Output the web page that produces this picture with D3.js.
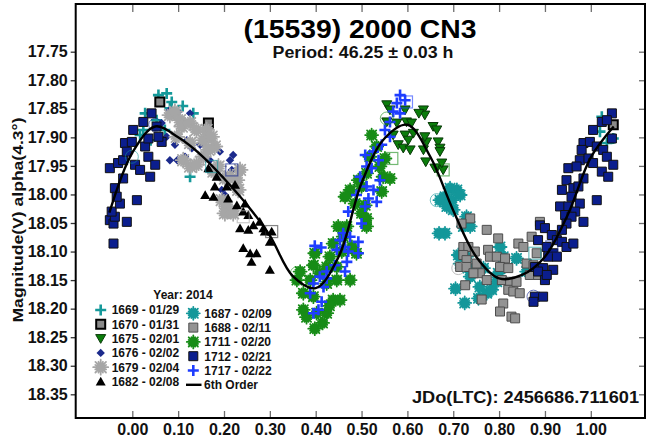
<!DOCTYPE html>
<html><head><meta charset="utf-8">
<script src="https://cdn.jsdelivr.net/npm/d3@7"></script>
<style>
body{margin:0;background:#fff}
svg{display:block}
text{font-family:"Liberation Sans",Arial,sans-serif;font-weight:bold}
</style>
</head><body>
<svg id="chart" width="650" height="444"></svg>
<script>
// ---- data: rotational phase vs. reduced magnitude, one array per session ----
const s1669 = [[0.057,17.826],[0.075,17.823],[0.086,17.838],[0.082,17.849],[0.028,17.858],[0.133,17.858],[0.024,17.887],[0.017,17.896],[0.126,17.969],[0.053,17.870],[0.071,17.887],[0.110,17.845],[0.040,17.905],[1.024,17.864],[1.020,17.890],[1.049,17.902],[1.035,17.910]];
const s1670 = [[0.060,17.838],[0.166,17.875],[1.049,17.878]];
const s1675 = [[0.555,17.843],[0.562,17.852],[0.595,17.852],[0.635,17.852],[0.638,17.861],[0.555,17.873],[0.577,17.875],[0.598,17.873],[0.609,17.875],[0.569,17.896],[0.595,17.896],[0.613,17.893],[0.602,17.905],[0.580,17.913],[0.591,17.919],[0.606,17.922],[0.656,17.881],[0.664,17.887],[0.642,17.908],[0.635,17.922],[0.667,17.908],[0.671,17.919],[0.640,17.943],[0.664,17.954],[0.678,17.957],[0.675,17.945],[0.638,17.899],[0.671,17.925],[0.660,17.954],[0.625,17.858]];
const s1676 = [[0.082,17.852],[0.100,17.855],[0.126,17.858],[0.108,17.875],[0.075,17.899],[0.093,17.913],[0.082,17.940],[0.098,17.940],[0.115,17.934],[0.130,17.919],[0.148,17.913],[0.119,17.905],[0.159,17.905],[0.191,17.925],[0.213,17.940],[0.169,17.940],[0.195,17.992],[0.202,18.001],[0.166,17.957],[0.064,17.875],[0.217,17.957],[0.220,17.931]];
const s1679 = [[0.082,17.861],[0.093,17.855],[0.104,17.870],[0.108,17.881],[0.126,17.875],[0.140,17.887],[0.155,17.905],[0.162,17.887],[0.173,17.899],[0.180,17.916],[0.111,17.940],[0.126,17.951],[0.140,17.948],[0.155,17.934],[0.188,17.951],[0.202,17.972],[0.213,17.969],[0.195,18.010],[0.206,18.021],[0.228,17.975],[0.231,17.992],[0.202,18.033],[0.220,18.033],[0.097,17.899],[0.126,17.910],[0.166,17.922],[0.177,17.960],[0.235,17.957]];
const s1682 = [[0.166,17.954],[0.184,17.969],[0.159,18.001],[0.177,18.004],[0.206,17.986],[0.224,17.983],[0.209,18.007],[0.228,18.019],[0.246,18.016],[0.242,18.030],[0.253,18.036],[0.235,18.059],[0.253,18.062],[0.264,18.054],[0.278,18.048],[0.289,18.065],[0.304,18.065],[0.300,18.083],[0.242,18.094],[0.257,18.103],[0.271,18.103],[0.260,18.118],[0.300,18.132],[0.180,17.986],[0.286,18.059]];
const s1687 = [[0.693,17.989],[0.708,17.992],[0.682,18.004],[0.671,18.010],[0.697,18.010],[0.715,18.001],[0.686,18.021],[0.700,18.027],[0.682,18.068],[0.729,18.039],[0.722,18.056],[0.737,18.056],[0.711,18.106],[0.729,18.109],[0.715,18.121],[0.802,18.092],[0.809,18.109],[0.798,18.138],[0.737,18.144],[0.758,18.162],[0.773,18.173],[0.784,18.167],[0.755,18.182],[0.860,18.135],[0.838,18.112],[0.732,18.129],[0.766,18.129],[0.795,18.153],[0.669,18.068],[0.705,18.165],[0.725,18.190]];
const s1688 = [[0.737,18.042],[0.718,18.051],[0.773,18.062],[0.798,18.077],[0.722,18.092],[0.733,18.092],[0.747,18.100],[0.776,18.097],[0.780,18.109],[0.722,18.106],[0.729,18.115],[0.751,18.121],[0.715,18.127],[0.729,18.127],[0.795,18.109],[0.813,18.112],[0.802,18.127],[0.820,18.129],[0.758,18.138],[0.744,18.138],[0.773,18.150],[0.806,18.150],[0.824,18.153],[0.842,18.086],[0.853,18.092],[0.871,18.074],[0.889,18.048],[0.882,18.103],[0.860,18.121],[0.875,18.124],[0.867,18.141],[0.885,18.141],[0.820,18.167],[0.831,18.170],[0.845,18.173],[0.762,18.184],[0.809,18.191],[0.802,18.205],[0.827,18.214],[0.835,18.217],[0.726,18.159],[0.838,18.153]];
const s1711 = [[0.522,17.896],[0.533,17.916],[0.518,17.934],[0.551,17.937],[0.540,17.951],[0.511,17.963],[0.493,17.975],[0.547,17.969],[0.562,17.972],[0.475,17.992],[0.500,17.986],[0.544,17.995],[0.464,18.004],[0.486,18.016],[0.508,18.019],[0.500,18.033],[0.511,18.042],[0.468,18.056],[0.449,18.056],[0.460,18.074],[0.438,18.086],[0.457,18.100],[0.479,18.092],[0.489,18.103],[0.431,18.109],[0.424,18.127],[0.446,18.127],[0.398,18.103],[0.395,18.124],[0.409,18.138],[0.388,18.150],[0.366,18.135],[0.359,18.150],[0.373,18.173],[0.395,18.179],[0.424,18.156],[0.446,18.150],[0.475,18.150],[0.438,18.185],[0.453,18.185],[0.373,18.202],[0.402,18.208],[0.424,18.208],[0.511,18.056],[0.398,18.235],[0.415,18.225],[0.380,18.215],[0.430,18.195]];
const s1712 = [[-0.049,17.954],[-0.049,18.045],[-0.041,18.051],[-0.038,18.039],[-0.045,18.030],[-0.041,18.086],[-0.012,18.048],[-0.027,18.016],[-0.020,17.972],[-0.038,17.989],[-0.034,18.004],[0.010,18.010],[-0.031,17.945],[-0.020,17.940],[-0.016,17.910],[-0.012,17.925],[-0.001,17.908],[0.002,17.887],[0.006,17.948],[0.017,17.957],[0.024,17.873],[0.028,17.916],[0.035,17.934],[0.039,17.969],[0.050,17.948],[0.042,17.858],[0.053,17.881],[0.064,17.908],[0.057,17.899],[0.035,17.902],
  [1.046,17.858],[1.024,17.873],[1.035,17.870],[1.005,17.887],[0.984,17.910],[0.998,17.908],[1.013,17.916],[1.046,17.902],[0.980,17.922],[1.027,17.922],[1.035,17.934],[0.976,17.940],[0.995,17.937],[1.005,17.945],[1.049,17.948],[0.951,17.954],[0.969,17.951],[1.024,17.960],[1.038,17.969],[0.984,17.972],[0.947,17.975],[0.962,17.989],[0.937,17.992],[0.973,17.986],[0.958,18.004],[1.013,18.010],[0.976,18.016],[0.933,18.021],[0.951,18.021],[0.966,18.030],[0.944,18.036],[0.958,18.039],[0.984,18.048],[0.889,18.054],[0.900,18.059],[0.947,18.051],[0.937,18.062],[0.915,18.071],[0.926,18.080],[0.885,18.080],[0.937,18.083],[0.947,18.092],[0.962,18.086],[0.904,18.092],[0.918,18.103],[0.907,18.109],[0.926,18.109],[0.878,18.127],[0.896,18.129],[0.918,18.132],[0.885,18.135],[0.900,18.150],[0.904,18.141],[0.878,18.179],[0.896,18.179],[0.875,18.188]];
const s1717 = [[0.584,17.826],[0.595,17.835],[0.577,17.840],[0.569,17.855],[0.584,17.858],[0.562,17.873],[0.551,17.887],[0.562,17.899],[0.544,17.913],[0.526,17.925],[0.508,17.931],[0.537,17.940],[0.522,17.954],[0.511,17.951],[0.497,17.969],[0.540,17.975],[0.511,17.986],[0.526,17.992],[0.489,18.001],[0.515,18.007],[0.533,18.013],[0.508,18.021],[0.471,18.030],[0.500,18.051],[0.460,18.068],[0.475,18.074],[0.453,18.080],[0.493,18.083],[0.464,18.092],[0.446,18.097],[0.471,18.100],[0.493,18.103],[0.468,18.118],[0.442,18.124],[0.424,18.135],[0.409,18.144],[0.395,18.156],[0.417,18.162],[0.388,18.173],[0.413,18.188],[0.406,18.202],[0.395,18.208],[0.464,18.135],[0.424,18.147],[0.398,18.090],[0.412,18.093]];

// rejected observations, drawn as open outlines: [phase, mag, session, outline]
const rejected = [[0.050,17.878,"1712","circle"],[-0.001,17.934,"1669","circle"],[0.148,17.940,"1679","circle"],[0.173,17.951,"1687","square"],[0.217,17.957,"1712","square"],[0.242,18.039,"1679","square"],[0.304,18.065,"1670","square"],[0.555,17.867,"1711","circle"],[0.598,17.838,"1717","square"],[0.566,17.937,"1711","square"],[0.359,18.138,"1711","circle"],[0.678,17.957,"1711","square"],[0.664,18.010,"1687","circle"],[0.711,18.129,"1688","circle"],[0.875,18.179,"1712","circle"],[0.878,18.103,"1687","square"],[0.915,18.092,"1712","square"]];

// 6th-order Fourier fit sampled along the phase
const fitPhase = [-0.05,0.00,0.05,0.10,0.15,0.20,0.25,0.30,0.35,0.40,0.45,0.50,0.55,0.60,0.65,0.70,0.75,0.80,0.85,0.90,0.95,1.00,1.05];
const fitMag   = [18.032,17.927,17.881,17.900,17.931,17.972,18.018,18.072,18.143,18.164,18.109,17.980,17.902,17.878,17.934,18.028,18.109,18.147,18.141,18.109,18.035,17.935,17.881];

const phaseTicks = [0,0.1,0.2,0.3,0.4,0.5,0.6,0.7,0.8,0.9,1.0];
const magTicks = [17.75,17.80,17.85,17.90,17.95,18.00,18.05,18.10,18.15,18.20,18.25,18.30,18.35];

const titleText = "(15539) 2000 CN3";
const subtitleText = "Period: 46.25 \u00b1 0.03 h";
const yLabel = "Magnitude(V) alpha(4.3\u00b0)";
const jdText = "JDo(LTC): 2456686.711601";
const legendTitle = "Year: 2014";

// ---- session appearance ----
const sessions = [
  {id:"1669", label:"1669 - 01/29", data:s1669, shape:"plus",    color:"#15999a"},
  {id:"1670", label:"1670 - 01/31", data:s1670, shape:"square",  color:"#8a8a8a", stroke:"#000", sw:2},
  {id:"1675", label:"1675 - 02/01", data:s1675, shape:"triDown", color:"#0b7d0b", stroke:"#093a09", sw:1},
  {id:"1676", label:"1676 - 02/02", data:s1676, shape:"diamond", color:"#1b2a8c"},
  {id:"1679", label:"1679 - 02/04", data:s1679, shape:"aster",   color:"#a6a6a6", r:7.5},
  {id:"1682", label:"1682 - 02/08", data:s1682, shape:"triUp",   color:"#000"},
  {id:"1687", label:"1687 - 02/09", data:s1687, shape:"aster",   color:"#13979a", r:6.5},
  {id:"1688", label:"1688 - 02/11", data:s1688, shape:"square",  color:"#939393", stroke:"#4d4d4d", sw:1},
  {id:"1711", label:"1711 - 02/20", data:s1711, shape:"aster",   color:"#178c17", r:6.5},
  {id:"1712", label:"1712 - 02/21", data:s1712, shape:"square",  color:"#0b1e8e", stroke:"#111", sw:1},
  {id:"1717", label:"1717 - 02/22", data:s1717, shape:"plus",    color:"#1e3dff"}
];

const frame = {left:75.7, right:645, top:4, bottom:418};
const x = d3.scaleLinear().domain([0,1]).range([132.3,590.8]);
const y = d3.scaleLinear().domain([17.75,18.35]).range([51.7,394.3]);

const svg = d3.select("#chart");
svg.append("rect").attr("width",650).attr("height",444).attr("fill","#fff");

function markerPath(shape, r){
  switch(shape){
    case "plus": return `M${-r},0H${r}M0,${-r}V${r}`;
    case "triDown": return `M${-r},${-r*0.8}L${r},${-r*0.8}L0,${r*0.95}Z`;
    case "triUp": return `M${-r},${r*0.8}L${r},${r*0.8}L0,${-r*0.95}Z`;
    case "diamond": return `M0,${-r}L${r},0L0,${r}L${-r},0Z`;
    case "square": return `M${-r},${-r}H${r}V${r}H${-r}Z`;
    case "aster": {
      // many-spoked star: long and short spokes alternate
      let p = "";
      for(let k=0;k<8;k++){
        const a = k*Math.PI/8;
        const rr = k%2 ? r*0.78 : r;
        const dx = rr*Math.cos(a), dy = rr*Math.sin(a);
        p += `M${-dx},${-dy}L${dx},${dy}`;
      }
      return p;
    }
  }
}

function drawMarker(sel, s){
  const shape = s.shape;
  if(shape==="plus"){
    sel.attr("d",markerPath("plus",5.5)).attr("fill","none").attr("stroke",s.color).attr("stroke-width",2.6);
  } else if(shape==="aster"){
    sel.attr("d",markerPath("aster",s.r||6)).attr("fill","none").attr("stroke",s.color).attr("stroke-width",1.8).attr("stroke-linecap","round");
  } else if(shape==="square"){
    sel.attr("d",markerPath("square",4.5)).attr("fill",s.color).attr("stroke",s.stroke).attr("stroke-width",s.sw);
  } else if(shape==="triDown"){
    sel.attr("d",markerPath("triDown",5)).attr("fill",s.color).attr("stroke",s.stroke).attr("stroke-width",s.sw);
  } else if(shape==="triUp"){
    sel.attr("d",markerPath("triUp",5)).attr("fill",s.color);
  } else if(shape==="diamond"){
    sel.attr("d",markerPath("diamond",4.2)).attr("fill",s.color);
  }
}

// ---- points ----
const pts = svg.append("g");
sessions.forEach(s=>{
  pts.append("g").selectAll("path").data(s.data).join("path")
    .attr("transform",d=>`translate(${x(d[0])},${y(d[1])})`)
    .call(drawMarker, s);
});

// rejected points as open outlines
const byId = Object.fromEntries(sessions.map(s=>[s.id,s]));
const rej = svg.append("g").attr("opacity",0.6);
rej.selectAll("circle").data(rejected.filter(d=>d[3]==="circle")).join("circle")
  .attr("cx",d=>x(d[0])).attr("cy",d=>y(d[1])).attr("r",6.5)
  .attr("fill","none").attr("stroke",d=>byId[d[2]].color)
  .attr("stroke-width",1);
rej.selectAll("rect").data(rejected.filter(d=>d[3]==="square")).join("rect")
  .attr("x",d=>x(d[0])-6).attr("y",d=>y(d[1])-6).attr("width",12).attr("height",12)
  .attr("fill","none").attr("stroke",d=>d[2]==="1670"?"#333":byId[d[2]].color)
  .attr("stroke-width",1.2);

// ---- fitted curve ----
const fit = fitPhase.map((p,i)=>[p,fitMag[i]]);
svg.append("path").datum(fit)
  .attr("d",d3.line().x(d=>x(d[0])).y(d=>y(d[1])).curve(d3.curveCatmullRom.alpha(0.5)))
  .attr("fill","none").attr("stroke","#000").attr("stroke-width",2.4);

// ---- axes ----
const fontFam = '"Liberation Sans",Arial,sans-serif';
const fmt = d3.format(".2f");

const axL = svg.append("g").attr("transform",`translate(${frame.left},0)`)
  .call(d3.axisLeft(y).tickValues(magTicks).tickFormat(fmt).tickSizeInner(5).tickSizeOuter(0).tickPadding(3));
const axR = svg.append("g").attr("transform",`translate(${frame.right},0)`)
  .call(d3.axisRight(y).tickValues(magTicks).tickFormat("").tickSizeInner(-6).tickSizeOuter(0));
const axB = svg.append("g").attr("transform",`translate(0,${frame.bottom})`)
  .call(d3.axisBottom(x).tickValues(phaseTicks).tickFormat(fmt).tickSizeInner(-7).tickSizeOuter(0).tickPadding(6));
const axT = svg.append("g").attr("transform",`translate(0,${frame.top})`)
  .call(d3.axisTop(x).tickValues(phaseTicks).tickFormat("").tickSizeInner(-8).tickSizeOuter(0));

[axL,axR,axB,axT].forEach(a=>{
  a.select(".domain").remove();
  a.attr("font-family",fontFam).attr("font-size",16).attr("font-weight","bold");
  a.selectAll(".tick line").attr("stroke","#6e6e6e").attr("stroke-width",1.3);
  a.selectAll(".tick text").attr("fill","#111");
});
axL.selectAll(".tick line").attr("stroke","#333");

// frame
svg.append("rect").attr("x",frame.left).attr("y",frame.top)
  .attr("width",frame.right-frame.left).attr("height",frame.bottom-frame.top)
  .attr("fill","none").attr("stroke","#000").attr("stroke-width",2);

// ---- titles ----
svg.append("text").attr("x",360).attr("y",38).attr("text-anchor","middle")
  .attr("font-size",26).attr("fill","#000").attr("textLength",233).attr("lengthAdjust","spacingAndGlyphs").text(titleText);
svg.append("text").attr("x",363).attr("y",58).attr("text-anchor","middle")
  .attr("font-size",16).attr("fill","#111").attr("textLength",181).attr("lengthAdjust","spacingAndGlyphs").text(subtitleText);
svg.append("text").attr("transform","translate(23,220) rotate(-90)").attr("text-anchor","middle")
  .attr("font-size",15).attr("fill","#111").attr("textLength",205).attr("lengthAdjust","spacingAndGlyphs").text(yLabel);
svg.append("text").attr("x",639).attr("y",403).attr("text-anchor","end")
  .attr("font-size",17).attr("fill","#111").attr("textLength",227).attr("lengthAdjust","spacingAndGlyphs").text(jdText);

// ---- legend ----
const leg = svg.append("g").attr("font-size",12).attr("fill","#111");
leg.append("text").attr("x",183).attr("y",299).attr("text-anchor","middle").text(legendTitle);
const colX = [100.7, 193.3];
const rowY = [[310,324.3,338.6,352.9,367.2,381.5],[313.3,327.6,341.9,356.2,370.5,384.8]];
sessions.forEach((s,i)=>{
  const c = i<6?0:1, r = i<6?i:i-6;
  const cy = rowY[c][r];
  leg.append("path").attr("transform",`translate(${colX[c]},${cy})`).call(drawMarker, s);
  leg.append("text").attr("x",colX[c]+11).attr("y",cy+4.3).text(s.label);
});
leg.append("line").attr("x1",186).attr("x2",201.5).attr("y1",rowY[1][5]).attr("y2",rowY[1][5])
  .attr("stroke","#000").attr("stroke-width",2.4);
leg.append("text").attr("x",204).attr("y",rowY[1][5]+4.3).text("6th Order");
</script>
</body></html>
